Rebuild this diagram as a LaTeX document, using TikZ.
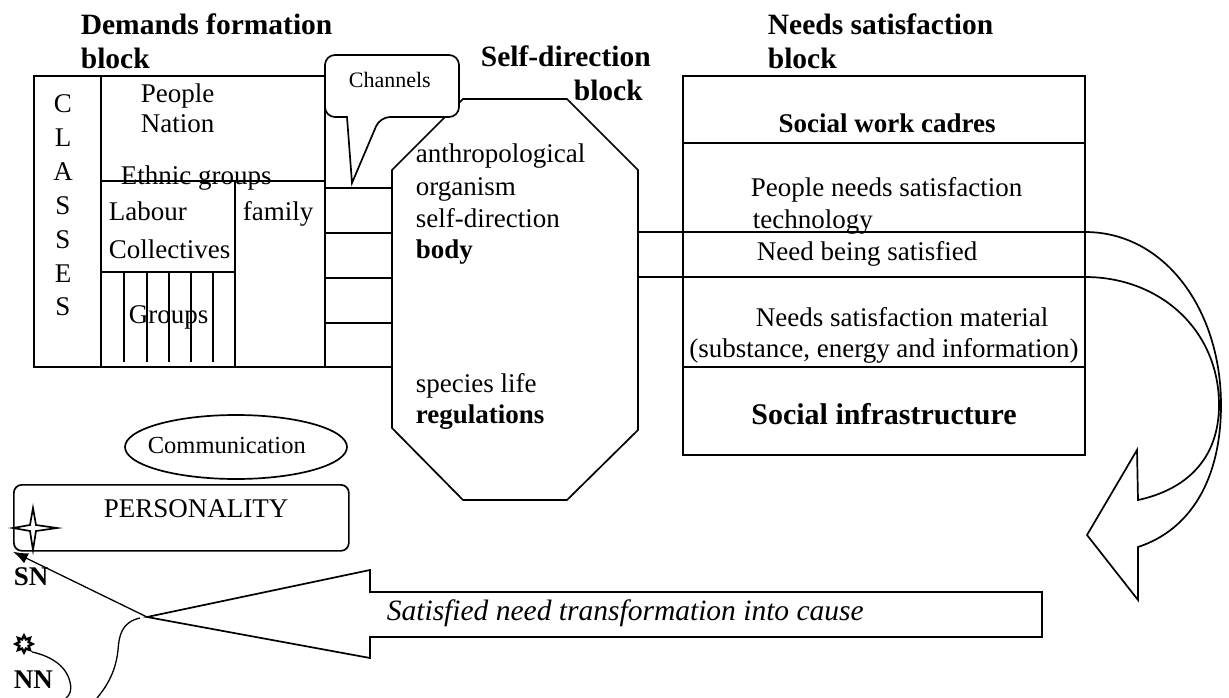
\documentclass[tikz,border=0pt]{standalone}
\usepackage{fontspec}
\setmainfont{Liberation Serif}
\usetikzlibrary{positioning, shapes.geometric, arrows.meta}

\begin{document}
\begin{tikzpicture}[x=1pt, y=-1pt, line width=1.7pt,
    lbl/.style={inner sep=0, anchor=base west, font=\fontsize{27}{31}\selectfont},
    ttl/.style={inner sep=0, anchor=base west, font=\fontsize{29.5}{33}\selectfont\bfseries},
    blk/.style={draw, inner sep=0, outer sep=0, anchor=north west}]
    \useasboundingbox (0,0) rectangle (1229,698);

    % Titles
    \node[ttl] (dft1) at (80,35) {Demands formation};
    \node[ttl] (dft2) at (80,69) {block};
    \node[ttl] (sdt1) at (480,67) {Self-direction};
    \node[ttl] (sdt2) at (573,101) {block};
    \node[ttl] (nst1) at (767,35) {Needs satisfaction};
    \node[ttl] (nst2) at (767,69) {block};

    % Demands formation block
    \node[blk, minimum width=291, minimum height=291] (dfb) at (34,76) {};
    \node[blk, minimum width=134, minimum height=91] (labour) at (101,181) {};
    \draw (101,76) -- (101,367);
    \draw (101,181) -- (325,181);
    \draw (235,181) -- (235,367);
    \foreach \gx in {124,147,169,191,213}
        \draw (\gx,272) -- (\gx,362);
    \foreach \ch [count=\i] in {C,L,A,S,S,E,S}
        \node[lbl, anchor=base] (cls\i) at (63,{79.2+33.8*\i}) {\ch};
    \node[lbl] (people) at (140,103) {People};
    \node[lbl] (nation) at (140,133) {Nation};
    \node[lbl] (ethnic) at (120,184) {Ethnic groups};
    \node[lbl] (lab1) at (108,220) {Labour};
    \node[lbl] (lab2) at (108,258) {Collectives};
    \node[lbl] (family) at (242,220) {family};
    \node[lbl] (groups) at (128,323) {Groups};

    % Channels to the self-direction block
    \foreach \cy in {188,233,278,323,367}
        \draw (325,\cy) -- (392,\cy);

    % Self-direction block
    \draw (463,99) -- (567,99) -- (638,170) -- (638,430) -- (567,500)
        -- (463,500) -- (392,428) -- (392,170) -- cycle;
    \node[lbl] (sd1) at (415,163) {anthropological};
    \node[lbl] (sd2) at (415,195) {organism};
    \node[lbl] (sd3) at (415,227) {self-direction};
    \node[lbl, font=\fontsize{27}{31}\selectfont\bfseries] (sd4) at (415,258) {body};
    \node[lbl] (sd5) at (415,392) {species life};
    \node[lbl, font=\fontsize{27}{31}\selectfont\bfseries] (sd6) at (415,423) {regulations};

    % Channels callout
    \draw[fill=white] (347,117) [rounded corners=10] -- (325,117) -- (325,55)
        -- (459,55) -- (459,117) -- (380,117) [sharp corners] -- (352,183) -- cycle;
    \node[lbl, font=\fontsize{22}{26}\selectfont] (chan) at (348,88) {Channels};

    % Needs satisfaction block
    \node[blk, minimum width=402, minimum height=379] (nsb) at (683,76) {};
    \draw (683,143) -- (1085,143);
    \draw (683,367) -- (1085,367);
    \node[lbl, anchor=base, font=\fontsize{27}{31}\selectfont\bfseries] (cadres) at (887,133) {Social work cadres};
    \node[lbl] (tech1) at (750,196) {People needs satisfaction};
    \node[lbl] (tech2) at (752,228) {technology};
    \node[lbl] (being) at (756,260) {Need being satisfied};
    \node[lbl] (mat1) at (755,326) {Needs satisfaction material};
    \node[lbl, anchor=base] (mat2) at (884,357) {(substance, energy and information)};
    \node[lbl, anchor=base, font=\fontsize{30}{34}\selectfont\bfseries] (infra) at (884,424) {Social infrastructure};

    % Need being satisfied, turned back
    \coordinate (oct1) at (638,232);
    \coordinate (oct2) at (638,277);
    \draw (oct1) -- (1085,232) .. controls (1165,232) and (1221,310) .. (1221,405)
        .. controls (1221,480) and (1190,530) .. (1138,547) -- (1138,600)
        -- (1087,535) -- (1137,450) -- (1138,500)
        .. controls (1185,490) and (1219,460) .. (1219,405)
        .. controls (1219,330) and (1160,277) .. (1085,277) -- (oct2);

    % Personality
    \node[draw, ellipse, inner sep=0, minimum width=222, minimum height=64] (comm) at (236,447) {};
    \node[lbl, font=\fontsize{24.5}{28}\selectfont] (commtxt) at (147,453) {Communication};
    \node[draw, rounded corners=8, inner sep=0, minimum width=335, minimum height=66, anchor=north west] (pers) at (13,484) {};
    \node[lbl] (perstxt) at (103,517) {PERSONALITY};
    \draw[fill=white] (13,528) -- (30,525) -- (33,508) -- (36,525) -- (57,528)
        -- (36,531) -- (33,550) -- (30,531) -- cycle;
    \node[lbl, font=\fontsize{27}{31}\selectfont\bfseries] (sn) at (13,585) {SN};
    \node[star, star points=8, star point ratio=1.7, draw, line width=2.4pt, inner sep=0, minimum size=17] (sun) at (24,644) {};
    \node[lbl, font=\fontsize{27}{31}\selectfont\bfseries] (nn) at (13,688) {NN};

    % Satisfied need transformation into cause
    \coordinate (bigtip) at (147,617);
    \draw (bigtip) -- (370,570) -- (370,592) -- (1042,592) -- (1042,637)
        -- (370,637) -- (370,658) -- cycle;
    \node[lbl, font=\fontsize{29.5}{33}\selectfont\itshape] (cause) at (386,620) {Satisfied need transformation into cause};
    \draw[-{Latex[length=15pt, width=11pt]}, line width=1.3pt] (bigtip) -- (pers.south west);
    \draw[line width=1.3pt] (140,618) .. controls (122,622) and (119,635) .. (118,650)
        .. controls (116,670) and (108,685) .. (97,698);
    \draw[line width=1.3pt] (sun.south east) .. controls (50,656) and (66,665) .. (70,682)
        .. controls (72,690) and (70,695) .. (66,698);
\end{tikzpicture}
\end{document}
